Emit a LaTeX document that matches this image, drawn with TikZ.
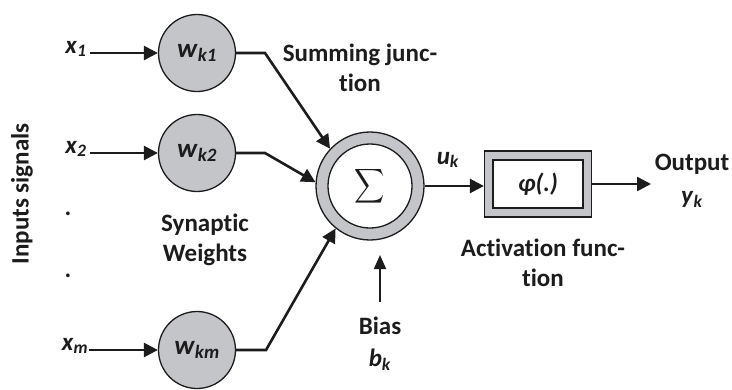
\documentclass[tikz,border=0pt]{standalone}
\usepackage{fontspec}
\setmainfont{Carlito}[Ligatures={NoCommon}]
\usetikzlibrary{arrows.meta}
\definecolor{ink}{RGB}{28,28,28}
\definecolor{cgray}{RGB}{196,197,201}
\newcommand{\sbi}[2]{\textbf{\textit{#1}}\textsubscript{\textbf{\textit{#2}}}}
\begin{document}
\begin{tikzpicture}[x=1pt,y=-1pt,
  font=\fontsize{25}{30}\selectfont\bfseries, text=ink,
  wnode/.style={circle, draw=ink, line width=1.3pt, fill=cgray, minimum size=77pt, inner sep=0pt, font=\fontsize{27}{30}\selectfont\bfseries},
  conn/.style={draw=ink, line width=2.6pt},
  arr/.style={conn, -{Triangle[length=14pt,width=14pt]}},
  thinarr/.style={draw=ink, line width=1.8pt, -{Triangle[length=14pt,width=12pt]}},
  lbl/.style={align=center, inner sep=0pt},
  xlbl/.style={inner sep=0pt, font=\fontsize{25}{30}\selectfont\bfseries}]
\useasboundingbox (0,0) rectangle (732,389);
% weight nodes
\node[wnode] (w1) at (197,53) {\sbi{w}{k1}};
\node[wnode] (w2) at (197,153) {\sbi{w}{k2}};
\node[wnode] (wm) at (197,350) {\sbi{w}{km}};
% input labels
\node[xlbl] (x1) at (76,49) {\sbi{x}{1}};
\node[xlbl] (x2) at (76,149) {\sbi{x}{2}};
\node[xlbl] (xm) at (75,346) {\sbi{x}{m}};
\node[lbl] (d1) at (68,214) {.};
\node[lbl] (d2) at (68,276) {.};
\node[lbl, rotate=90] (inp) at (22,194) {Inputs signals};
\node[lbl] (syn) at (205,240) {Synaptic\\Weights};
% summing junction
\node[circle, draw=ink, line width=1.3pt, fill=cgray, minimum size=108pt, inner sep=0pt] (sum) at (370,186) {};
\node[circle, draw=ink, line width=1.3pt, fill=white, minimum size=84pt, inner sep=0pt] (sumin) at (sum) {\scalebox{2.1}[2.4]{$\displaystyle\sum$}};
\node[lbl] (sj) at (360,68) {Summing junc-\\t\kern0pt ion};
% activation box
\node[draw=ink, line width=1.3pt, fill=cgray, minimum width=107pt, minimum height=66pt] (phi) at (538,184) {};
\node[draw=ink, line width=1.3pt, fill=white, minimum width=90pt, minimum height=48pt] (phiin) at (phi) {\textit{φ(.)}};
\node[lbl] (act) at (543,263) {Activation func-\\t\kern0pt ion};
\node[lbl] (uk) at (448,160) {\sbi{u}{k}};
\node[lbl, font=\fontsize{25}{33}\selectfont\bfseries] (outl) at (692,181) {Output\\\sbi{y}{k}};
\node[lbl, font=\fontsize{25}{32}\selectfont\bfseries] (bias) at (380,344) {Bias\\\sbi{b}{k}};
% connectors
\coordinate (b1) at (265,53);
\coordinate (b2) at (265,153);
\coordinate (bm) at (266,350);
\coordinate (bs) at (380,302);
\coordinate (bt) at (380,255);
\coordinate (out) at (651,184);
\draw[arr, shorten <=3pt] (x1.east |- w1) -- (w1.west);
\draw[arr, shorten <=3pt] (x2.east |- w2) -- (w2.west);
\draw[arr, shorten <=1pt] (xm.east |- wm) -- (wm.west);
\draw[arr] (w1.east) -- (b1) -- (sum.137);
\draw[arr] (w2.east) -- (b2) -- (sum.176);
\draw[arr] (wm.east) -- (bm) -- (sum.231);
\draw[thinarr] (bs) -- (bt);
\draw[arr] (sum.east) -- (sum.east -| phi.west);
\draw[arr] (phi.east) -- (out);
\end{tikzpicture}
\end{document}
